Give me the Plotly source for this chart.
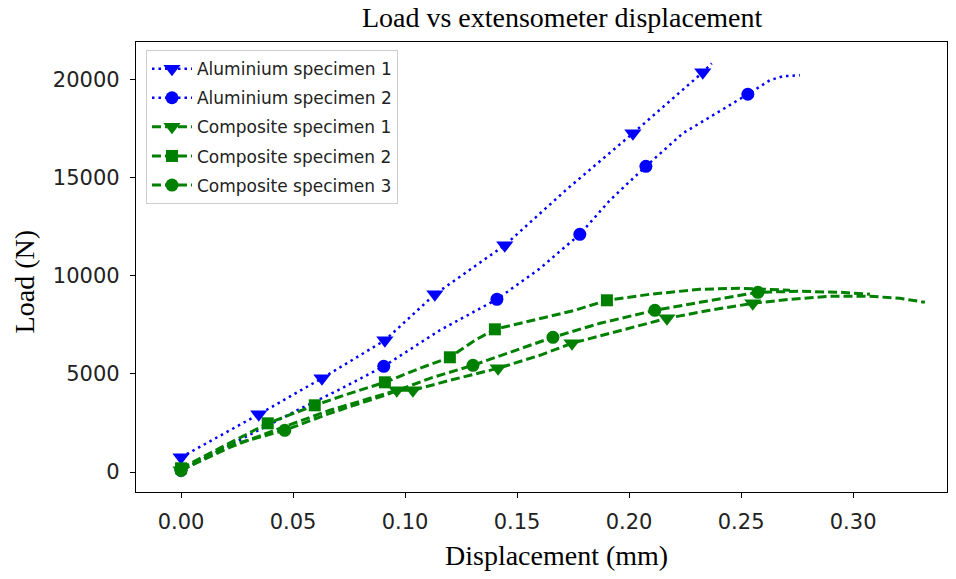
import plotly.graph_objects as go

# ---- data (Displacement in mm, Load in N) ----
AL1_X = [0.0, 0.0347, 0.0629, 0.0910, 0.1133, 0.1445, 0.1722, 0.2017, 0.2329, 0.2369]
AL1_Y = [749, 2941, 4776, 6713, 9058, 11555, 14410, 17264, 20373, 20832]
AL1_MARKS = [0, 1, 2, 3, 4, 5, 7, 8]

AL2_X = [0.0, 0.0262, 0.0527, 0.0709, 0.0905, 0.1155, 0.1410, 0.1602, 0.1780, 0.1914,
         0.2075, 0.2240, 0.2392, 0.2530, 0.2628, 0.2686, 0.2762]
AL2_Y = [87, 1616, 3196, 4215, 5388, 7222, 8803, 10376, 12116, 13849,
         15582, 17264, 18283, 19252, 19966, 20169, 20220]
AL2_MARKS = [0, 4, 6, 8, 10, 13]

C1_X = [0.0, 0.0218, 0.0441, 0.0664, 0.0843, 0.0963, 0.1035, 0.1200, 0.1415, 0.1602,
        0.1745, 0.1959, 0.2169, 0.2360, 0.2552, 0.2718, 0.2896, 0.3075, 0.3208, 0.3320]
C1_Y = [87, 1259, 2227, 3145, 3756, 4164, 4164, 4674, 5286, 5948,
        6560, 7222, 7834, 8242, 8599, 8803, 8956, 8956, 8854, 8650]
C1_MARKS = [0, 5, 6, 8, 10, 12, 14]

C2_X = [0.0, 0.0196, 0.0387, 0.0597, 0.0754, 0.0910, 0.1066, 0.1200, 0.1312, 0.1401,
        0.1602, 0.1758, 0.1901, 0.2093, 0.2316, 0.2494, 0.2718]
C2_Y = [189, 1361, 2482, 3400, 4011, 4572, 5286, 5846, 6713, 7273,
        7834, 8242, 8752, 9058, 9313, 9364, 9262]
C2_MARKS = [0, 2, 3, 5, 7, 9, 12]

C3_X = [0.0, 0.0218, 0.0463, 0.0664, 0.0910, 0.1111, 0.1303, 0.1468, 0.1660, 0.1870,
        0.2115, 0.2316, 0.2575, 0.2762, 0.2941, 0.3075]
C3_Y = [87, 1361, 2125, 2992, 3909, 4776, 5439, 6101, 6866, 7579,
        8242, 8650, 9160, 9211, 9160, 9058]
C3_MARKS = [0, 2, 6, 8, 10, 12]

X_TICKS = [0.00, 0.05, 0.10, 0.15, 0.20, 0.25, 0.30]
Y_TICKS = [0, 5000, 10000, 15000, 20000]

TITLE = "Load vs extensometer displacement"
X_LABEL = "Displacement (mm)"
Y_LABEL = "Load (N)"

# ---- styles ----
BLUE = "#0000ff"
GREEN = "#008000"
CLEAR = "rgba(0,0,0,0)"

series = [
    ("Aluminium specimen 1", AL1_X, AL1_Y, AL1_MARKS, BLUE, "triangle-down", 15, "2.5px,4px", 2.5),
    ("Aluminium specimen 2", AL2_X, AL2_Y, AL2_MARKS, BLUE, "circle", 13, "2.5px,4px", 2.5),
    ("Composite specimen 1", C1_X, C1_Y, C1_MARKS, GREEN, "triangle-down", 15, "9px,4px", 3),
    ("Composite specimen 2", C2_X, C2_Y, C2_MARKS, GREEN, "square", 12, "9px,4px", 3),
    ("Composite specimen 3", C3_X, C3_Y, C3_MARKS, GREEN, "circle", 13, "9px,4px", 3),
]

fig = go.Figure()
for name, xs, ys, marks, color, symbol, size, dash, width in series:
    mcolors = [color if i in marks else CLEAR for i in range(len(xs))]
    fig.add_trace(go.Scatter(
        x=xs, y=ys, name=name, legendgroup=name,
        mode="lines+markers",
        line=dict(color=color, width=width, dash=dash),
        marker=dict(symbol=symbol, size=size, color=mcolors, line=dict(width=0)),
    ))

axis_common = dict(
    showline=True, mirror=True, linecolor="black", linewidth=1.3,
    ticks="outside", ticklen=5, tickwidth=1.3, tickcolor="black",
    showgrid=False, zeroline=False,
    tickfont=dict(family="DejaVu Sans", size=21, color="#222222"),
    ticklabelstandoff=6,
)

fig.update_xaxes(range=[-0.0201, 0.3419], tickvals=X_TICKS, tickformat=".2f", **axis_common)
fig.update_yaxes(range=[-1019, 21916], tickvals=Y_TICKS, tickformat="d", **axis_common)

fig.update_layout(
    width=956, height=579,
    margin=dict(l=136, r=9, t=42, b=87),
    plot_bgcolor="white", paper_bgcolor="white",
    title=dict(text=TITLE, x=0.588, xanchor="center", y=0.9706, yanchor="middle",
               font=dict(family="Liberation Serif", size=28, color="black")),
    legend=dict(x=0.0123, y=0.982, xanchor="left", yanchor="top",
                bgcolor="white", bordercolor="#cccccc", borderwidth=1,
                font=dict(family="DejaVu Sans", size=17, color="#222222"),
                tracegroupgap=4, itemwidth=40),
    annotations=[
        dict(text=X_LABEL, xref="paper", yref="paper", x=0.519, y=-0.14,
             xanchor="center", yanchor="middle", showarrow=False,
             font=dict(family="Liberation Serif", size=28, color="black")),
        dict(text=Y_LABEL, xref="paper", yref="paper", x=-0.138, y=0.466,
             xanchor="center", yanchor="middle", showarrow=False, textangle=-90,
             font=dict(family="Liberation Serif", size=28, color="black")),
    ],
)

fig.write_html("out.html")
